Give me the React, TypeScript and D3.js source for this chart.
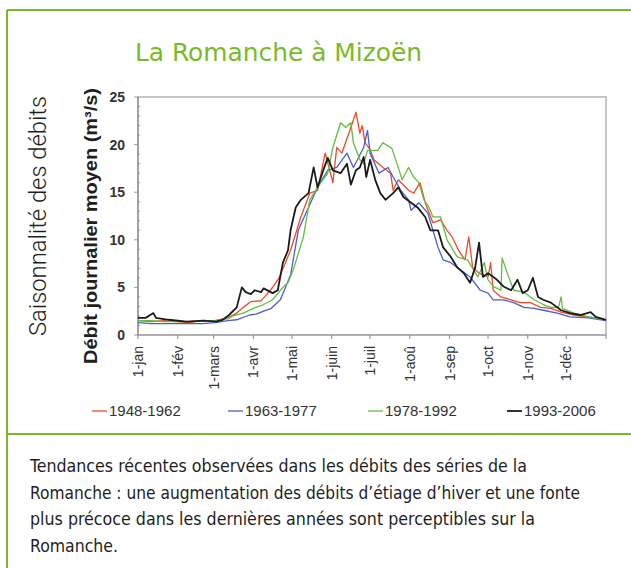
import React from "react";
import * as d3 from "d3";

const TITLE = "La Romanche à Mizoën";
const SIDE_LABEL = "Saisonnalité des débits";
const Y_TITLE = "Débit journalier moyen (m³/s)";
const MONTH_DAYS = [0, 31, 59, 90, 120, 151, 181, 212, 243, 273, 304, 334];
const MONTH_LABELS = ["1-jan", "1-fév", "1-mars", "1-avr", "1-mai", "1-juin", "1-juil", "1-aoû", "1-sep", "1-oct", "1-nov", "1-déc"];
const Y_TICKS = [0, 5, 10, 15, 20, 25];
const SERIES_NAMES = ["1948-1962", "1963-1977", "1978-1992", "1993-2006"];
const SERIES_COLORS = ["#ee4a2a", "#4b5fcf", "#62be45", "#1b1b1b"];
const CAPTION = [
  "Tendances récentes observées dans les débits des séries de la",
  "Romanche : une augmentation des débits d’étiage d’hiver et une fonte",
  "plus précoce dans les dernières années sont perceptibles sur la",
  "Romanche.",
];

const S1948: [number, number][] = [[0,1.5],[10,1.4],[20,1.5],[30,1.4],[40,1.3],[50,1.5],[60,1.5],[70,1.8],[77,2.3],[82,2.9],[88,3.5],[96,3.6],[98,3.9],[105,5.0],[110,6.0],[119,8.9],[127,12.4],[134,14.9],[140,15.2],[146,19.1],[152,16.0],[155,19.7],[159,19.1],[166,21.8],[170,23.4],[173,21.2],[175,22.0],[177,20.2],[181,19.5],[184,18.4],[191,17.6],[197,17.0],[199,15.2],[203,16.3],[211,15.2],[215,14.9],[220,16.0],[224,13.9],[230,11.8],[236,12.1],[241,11.0],[245,10.3],[250,8.9],[255,7.9],[258,10.3],[261,7.1],[266,6.5],[273,6.1],[275,7.6],[277,4.7],[283,4.0],[291,3.7],[298,3.4],[306,3.4],[314,2.9],[322,2.8],[330,2.4],[340,2.1],[351,1.9],[365,1.6]];
const S1963: [number, number][] = [[0,1.3],[10,1.2],[20,1.2],[30,1.2],[40,1.2],[50,1.2],[60,1.3],[70,1.5],[77,1.6],[87,2.1],[92,2.2],[98,2.5],[104,2.8],[111,3.7],[115,5.0],[119,6.3],[125,11.0],[132,13.1],[140,15.5],[148,17.3],[155,17.6],[163,19.1],[168,17.6],[176,19.7],[179,21.5],[181,19.1],[188,17.0],[195,17.6],[199,16.6],[205,15.2],[211,14.2],[213,13.1],[219,13.9],[226,12.8],[230,11.0],[234,9.2],[238,7.9],[244,7.6],[252,6.8],[259,6.1],[267,4.7],[273,4.4],[277,3.7],[285,3.7],[293,3.4],[301,2.9],[309,2.8],[316,2.6],[327,2.3],[337,1.9],[351,1.8],[365,1.5]];
const S1978: [number, number][] = [[0,1.5],[10,1.5],[20,1.4],[30,1.4],[40,1.4],[50,1.5],[60,1.5],[70,1.7],[74,2.0],[82,2.3],[90,2.8],[98,3.2],[105,3.7],[113,5.0],[117,5.5],[121,6.8],[129,10.3],[134,14.2],[140,15.5],[148,17.0],[152,19.7],[158,22.3],[162,21.8],[166,22.3],[168,20.2],[173,18.4],[176,18.0],[179,19.4],[187,19.4],[191,20.2],[198,19.6],[202,18.0],[206,16.3],[211,17.6],[215,16.6],[219,16.0],[223,14.2],[227,13.4],[230,12.4],[236,12.4],[241,10.0],[249,8.2],[257,7.9],[265,6.1],[270,7.6],[273,5.8],[277,5.1],[283,4.7],[284,8.1],[288,6.5],[293,4.7],[301,4.5],[309,3.7],[316,3.2],[322,2.9],[328,2.9],[330,4.0],[331,2.8],[340,2.3],[351,1.9],[365,1.6]];
const S1993: [number, number][] = [[0,1.8],[6,1.8],[12,2.3],[14,1.8],[24,1.6],[38,1.4],[51,1.5],[61,1.4],[66,1.6],[71,2.1],[77,2.9],[81,5.0],[84,4.5],[88,4.3],[91,4.7],[96,4.5],[98,4.9],[105,4.4],[109,4.7],[113,7.6],[117,8.9],[119,11.0],[123,13.4],[127,14.2],[133,14.9],[137,17.6],[140,15.5],[145,17.5],[148,18.6],[152,17.3],[158,17.0],[163,18.0],[166,15.8],[170,17.3],[173,17.6],[176,18.7],[178,16.6],[181,18.4],[185,16.3],[189,14.9],[193,14.2],[199,14.9],[203,15.5],[207,14.5],[213,13.9],[218,13.4],[224,12.4],[228,11.0],[234,11.0],[238,9.2],[244,8.2],[249,7.1],[254,6.5],[259,5.5],[263,7.1],[266,9.7],[269,6.1],[273,6.5],[280,5.8],[285,5.1],[291,4.7],[296,5.8],[300,4.4],[304,4.7],[308,6.0],[312,4.0],[316,3.7],[322,3.4],[330,2.6],[337,2.3],[345,2.1],[353,2.4],[357,1.9],[365,1.6]];

const SERIES = [S1948, S1963, S1978, S1993];

const W = 631;
const H = 568;
const GREEN = "#7aba2a";
const ARIAL = "'Liberation Sans', Arial, sans-serif";

export default function App() {
  const x = d3.scaleLinear().domain([0, 365]).range([138, 606]);
  const y = d3.scaleLinear().domain([0, 25]).range([335, 97]);
  const line = d3
    .line<[number, number]>()
    .x((d) => x(d[0]))
    .y((d) => y(d[1]));
  const minor = d3.range(0, 26, 1);
  const legendX = [92, 228, 368, 507];

  return (
    <svg
      width={W}
      height={H}
      style={{ position: "absolute", left: 0, top: 0, background: "#fff" }}
    >
      <rect x={0} y={0} width={W} height={H} fill="#fff" />
      <line x1={7} y1={10} x2={W} y2={10} stroke={GREEN} strokeWidth={2} />
      <line x1={7} y1={10} x2={7} y2={H} stroke={GREEN} strokeWidth={2} />
      <line x1={7} y1={434} x2={W} y2={434} stroke={GREEN} strokeWidth={2} />

      <text
        x={135}
        y={61}
        fill={GREEN}
        fontFamily="'DejaVu Sans Condensed', Roboto, sans-serif"
        fontSize={25}
        textLength={287}
        lengthAdjust="spacingAndGlyphs"
      >
        {TITLE}
      </text>

      <text
        transform={`translate(46,216) rotate(-90)`}
        textAnchor="middle"
        fill="#1e1e1e"
        fontFamily="Roboto, sans-serif"
        fontWeight={300}
        fontSize={23}
        textLength={240}
        lengthAdjust="spacingAndGlyphs"
      >
        {SIDE_LABEL}
      </text>

      <text
        transform={`translate(97,226) rotate(-90)`}
        textAnchor="middle"
        fill="#1e1e1e"
        fontFamily={ARIAL}
        fontWeight="bold"
        fontSize={18}
        textLength={276}
        lengthAdjust="spacingAndGlyphs"
      >
        {Y_TITLE}
      </text>

      <rect x={138} y={97} width={468} height={238} fill="none" stroke="#b5b5b5" strokeWidth={1.5} />
      <line x1={138} y1={97} x2={138} y2={335} stroke="#888" strokeWidth={1.2} />
      <line x1={138} y1={335} x2={606} y2={335} stroke="#999" strokeWidth={1.2} />

      {minor.map((v) => (
        <line key={"m" + v} x1={138} x2={v % 5 === 0 ? 134 : 140} y1={y(v)} y2={y(v)} stroke="#888" strokeWidth={0.8} />
      ))}
      {Y_TICKS.map((v) => (
        <text
          key={"yt" + v}
          x={125}
          y={y(v)}
          dy="0.35em"
          textAnchor="end"
          fill="#333"
          fontFamily={ARIAL}
          fontWeight="bold"
          fontSize={14}
        >
          {v}
        </text>
      ))}

      {[...MONTH_DAYS, 365].map((d) => (
        <line key={"xt" + d} x1={x(d)} x2={x(d)} y1={335} y2={339} stroke="#888" strokeWidth={1} />
      ))}
      {MONTH_LABELS.map((l, i) => (
        <text
          key={"xl" + l}
          transform={`translate(${x(MONTH_DAYS[i]) + 5},346) rotate(-90)`}
          textAnchor="end"
          fill="#333"
          fontFamily={ARIAL}
          fontSize={14}
        >
          {l}
        </text>
      ))}

      {SERIES.map((s, i) => (
        <path
          key={"s" + i}
          d={line(s) || ""}
          fill="none"
          stroke={SERIES_COLORS[i]}
          strokeWidth={i === 3 ? 1.8 : 1.3}
          strokeLinejoin="round"
        />
      ))}

      {SERIES_NAMES.map((n, i) => (
        <g key={"lg" + n}>
          <line x1={legendX[i]} x2={legendX[i] + 15} y1={411} y2={411} stroke={SERIES_COLORS[i]} strokeWidth={i === 3 ? 1.8 : 1.3} />
          <text
            x={legendX[i] + 17}
            y={411}
            dy="0.35em"
            fill="#333"
            fontFamily={ARIAL}
            fontSize={15}
          >
            {n}
          </text>
        </g>
      ))}

      {CAPTION.map((c, i) => (
        <text
          key={"c" + i}
          x={30}
          y={472 + i * 26.7}
          fill="#1e1e1e"
          fontFamily="'DejaVu Sans Condensed', Roboto, sans-serif"
          fontSize={17}
          textLength={[497, 550, 505, 88][i]}
          lengthAdjust="spacingAndGlyphs"
        >
          {c}
        </text>
      ))}
    </svg>
  );
}
